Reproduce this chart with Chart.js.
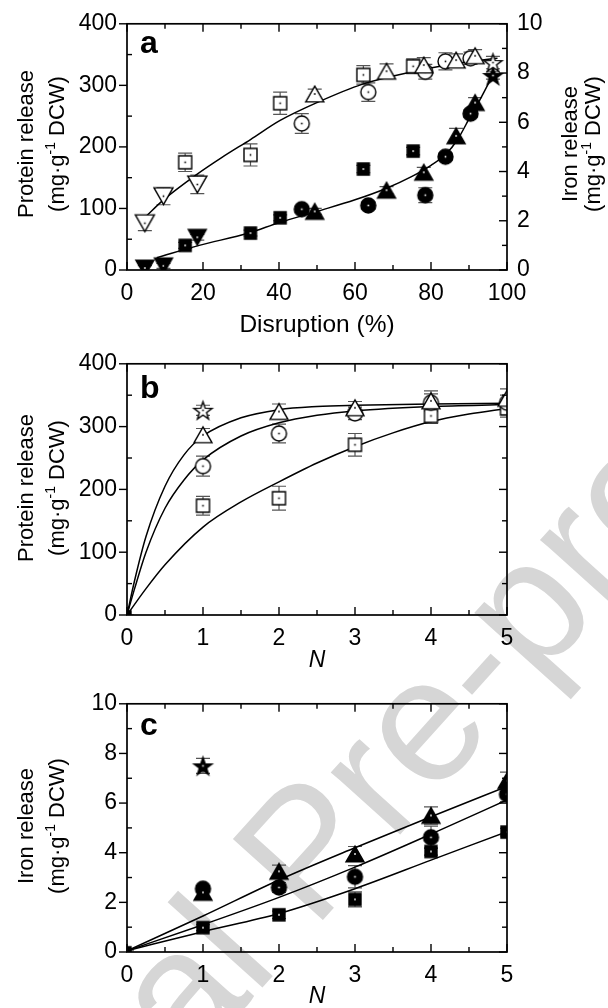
<!DOCTYPE html>
<html><head><meta charset="utf-8">
<script src="https://cdn.jsdelivr.net/npm/chart.js@4.4.0/dist/chart.umd.min.js"></script>
<style>
html,body{margin:0;padding:0;background:#fff;}
body{width:608px;height:1008px;position:relative;overflow:hidden;}
#wm{position:absolute;left:304px;top:850px;transform:translate(-50%,-50%) rotate(-48deg);font-size:176px;line-height:1;color:#d6d6d6;white-space:nowrap;font-family:'Liberation Sans',Arial,sans-serif;z-index:0;}
.pane{position:absolute;left:0;width:608px;z-index:1;}
</style></head>
<body>
<div id="wm">Journal Pre-proof</div>
<div class="pane" style="top:0;height:340px"><canvas id="ca"></canvas></div>
<div class="pane" style="top:340px;height:340px"><canvas id="cb"></canvas></div>
<div class="pane" style="top:680px;height:328px"><canvas id="cc"></canvas></div>
<script>
// ---------------- DATA ----------------
// Panel a: protein (left axis) and iron (right axis) vs disruption (%)
const aXTicks = [0, 20, 40, 60, 80, 100];
const aYTicks = [0, 100, 200, 300, 400];
const aY2Ticks = [0, 2, 4, 6, 8, 10];

const aInvX = [4.7, 9.6, 18.5];
const aInvProt = [76, 120, 139];
const aInvProtErr = [12, 14, 15];
const aInvFe = [0.08, 0.17, 1.33];
const aInvFeErr = [0.1, 0.1, 0.12];

const aSqX = [15.3, 32.5, 40.3, 62.2, 75.3];
const aSqProt = [175, 187, 271, 317, 331];
const aSqProtErr = [15, 18, 18, 15, 12];
const aSqFe = [1.0, 1.5, 2.12, 4.1, 4.83];
const aSqFeErr = [0.12, 0.12, 0.12, 0.15, 0.15];

const aCiX = [46.0, 63.5, 78.5, 83.8, 90.4];
const aCiProt = [238, 289, 322, 339, 344];
const aCiProtErr = [16, 15, 12, 14, 10];
const aCiFe = [2.47, 2.62, 3.04, 4.6, 6.35];
const aCiFeErr = [0.12, 0.15, 0.3, 0.15, 0.15];

const aTrX = [49.4, 68.3, 78.1, 86.6, 91.6];
const aTrProt = [286, 323, 333, 341, 348];
const aTrProtErr = [8, 12, 12, 10, 10];
const aTrFe = [2.38, 3.24, 3.97, 5.45, 6.8];
const aTrFeErr = [0.12, 0.15, 0.2, 0.3, 0.2];

const aStX = [96.3];
const aStProt = [337];
const aStProtErr = [10];
const aStFe = [7.9];
const aStFeErr = [0.15];

const aFitProtX = [4.8, 9.6, 18.3, 25, 32.5, 40.3, 50, 62, 75, 85, 92, 97.5];
const aFitProtY = [86, 114, 155, 183, 212, 243, 272, 302, 322, 334, 340, 344];
const aFitFeX = [7.8, 19, 32, 40, 50, 60, 68, 75, 80, 84, 87, 90.4, 93, 96.2];
const aFitFeY = [0.5, 1.0, 1.5, 1.92, 2.38, 2.85, 3.3, 3.8, 4.25, 4.72, 5.3, 6.25, 6.95, 7.9];

// Panel b: protein release vs N
const bXTicks = [0, 1, 2, 3, 4, 5];
const bYTicks = [0, 100, 200, 300, 400];
const bN = [1, 2, 3, 4, 5];
const bSq = [174, 186, 271, 317, 329];
const bSqErr = [15, 19, 18, 12, 14];
const bCi = [237, 289, 321, 338, 338];
const bCiErr = [16, 15, 10, 14, 12];
const bTr = [287, 324, 330, 341, 345];
const bTrErr = [10, 12, 10, 16, 15];
const bStN = [1];
const bSt = [326];
const bStErr = [8];
const bOrigN = [0];
const bOrig = [0];
const bFitTrN = [0, 0.1, 0.25, 0.5, 0.75, 1, 1.5, 2, 2.5, 3, 4, 5];
const bFitTr = [0, 55, 125, 205, 255, 285, 314, 327, 332, 334, 336, 337];
const bFitCiN = [0, 0.1, 0.25, 0.5, 0.75, 1, 1.5, 2, 2.5, 3, 4, 5];
const bFitCi = [0, 42, 100, 170, 215, 247, 285, 306, 318, 325, 332, 335];
const bFitSqN = [0, 0.25, 0.5, 1, 1.5, 2, 2.5, 3, 3.5, 4, 4.5, 5];
const bFitSq = [0, 42, 80, 140, 180, 212, 242, 268, 290, 308, 320, 329];

// Panel c: iron release vs N
const cXTicks = [0, 1, 2, 3, 4, 5];
const cYTicks = [0, 2, 4, 6, 8, 10];
const cN = [1, 2, 3, 4, 5];
const cSq = [0.98, 1.5, 2.12, 4.05, 4.83];
const cSqErr = [0.12, 0.15, 0.3, 0.15, 0.15];
const cCi = [2.55, 2.6, 3.03, 4.62, 6.36];
const cCiErr = [0.12, 0.2, 0.45, 0.45, 0.3];
const cTr = [2.4, 3.25, 3.95, 5.5, 6.9];
const cTrErr = [0.2, 0.25, 0.3, 0.35, 0.35];
const cStN = [1];
const cSt = [7.5];
const cStErr = [0.3];
const cOrigN = [0];
const cOrig = [0.05];
const cFitN = [0, 1, 2, 3, 4, 5];
const cFitTr = [0.05, 1.45, 2.9, 4.2, 5.45, 6.67];
const cFitCi = [0.05, 1.1, 2.2, 3.42, 4.75, 6.13];
const cFitSq = [0.05, 0.82, 1.55, 2.55, 3.7, 4.85];

// ---------------- STYLE / HELPERS ----------------
const FAM = "'Liberation Sans', Arial, Helvetica, sans-serif";
Chart.defaults.font.family = FAM;
Chart.defaults.font.size = 23;
Chart.defaults.color = '#000';
Chart.defaults.animation = false;

function marker(shape, filled, s) {
  const W = Math.ceil(s) + 6;
  const c = document.createElement('canvas');
  c.width = W; c.height = W;
  const g = c.getContext('2d');
  const m = W / 2;
  g.lineWidth = 1.4; g.strokeStyle = '#000'; g.fillStyle = filled ? '#000' : '#fff';
  g.lineJoin = 'miter';
  g.beginPath();
  if (shape === 'sq') g.rect(m - s / 2, m - s / 2, s, s);
  else if (shape === 'ci') g.arc(m, m, s / 2, 0, Math.PI * 2);
  else if (shape === 'tr' || shape === 'inv') {
    const h = s * 0.88, d = shape === 'tr' ? 1 : -1;
    g.moveTo(m, m - d * h / 2); g.lineTo(m + s / 2, m + d * h / 2); g.lineTo(m - s / 2, m + d * h / 2); g.closePath();
  } else if (shape === 'st') {
    for (let i = 0; i < 10; i++) {
      const r = i % 2 ? s * 0.2 : s / 2, an = -Math.PI / 2 + i * Math.PI / 5;
      const px = m + r * Math.cos(an), py = m + 1 + r * Math.sin(an);
      i ? g.lineTo(px, py) : g.moveTo(px, py);
    }
    g.closePath();
  }
  g.fill(); g.stroke();
  g.fillStyle = filled ? '#fff' : '#000';
  g.fillRect(m - 0.8, m - 0.8, 1.6, 1.6);
  return c;
}
const M = {
  sqO: marker('sq', false, 13), sqF: marker('sq', true, 12),
  ciO: marker('ci', false, 15), ciF: marker('ci', true, 15),
  trO: marker('tr', false, 18), trF: marker('tr', true, 18),
  invO: marker('inv', false, 19), invF: marker('inv', true, 18),
  stO: marker('st', false, 19), stF: marker('st', true, 19),
  orig: marker('sq', true, 8)
};

function pts(X, Y, E, img, yAxis) {
  return { data: X.map((x, i) => ({ x: x, y: Y[i] })), errs: E, pointStyle: img, pointRadius: 8, pointHoverRadius: 8,
    showLine: false, yAxisID: yAxis || 'y', clip: 0 };
}
function fit(X, Y, yAxis) {
  return { data: X.map((x, i) => ({ x: x, y: Y[i] })), showLine: true, pointRadius: 0, borderColor: '#000', borderWidth: 1.5,
    cubicInterpolationMode: 'monotone', fill: false, yAxisID: yAxis || 'y', clip: 0 };
}
function axis(pos, ticks, size, pad) {
  const o = { type: 'linear', position: pos, min: ticks[0], max: ticks[ticks.length - 1],
    grid: { display: false, drawTicks: false }, border: { display: false },
    ticks: { padding: pad, color: '#000', font: { size: 23 }, autoSkip: false, maxRotation: 0 },
    afterBuildTicks: s => { s.ticks = ticks.map(v => ({ value: v })); } };
  if (pos === 'bottom') o.afterFit = s => { s.height = size; };
  else o.afterFit = s => { s.width = size; };
  return o;
}

const errPlugin = {
  id: 'errs',
  beforeDatasetsDraw(chart) {
    const ctx = chart.ctx, a = chart.chartArea;
    ctx.save();
    ctx.beginPath(); ctx.rect(a.left, a.top, a.right - a.left, a.bottom - a.top); ctx.clip();
    ctx.strokeStyle = '#555'; ctx.lineWidth = 1.2;
    chart.data.datasets.forEach(ds => {
      if (!ds.errs) return;
      const xs = chart.scales.x, ys = chart.scales[ds.yAxisID || 'y'];
      ds.data.forEach((p, j) => {
        const e = ds.errs[j];
        const x = xs.getPixelForValue(p.x);
        const y1 = ys.getPixelForValue(p.y - e), y2 = ys.getPixelForValue(p.y + e);
        ctx.beginPath();
        ctx.moveTo(x, y1); ctx.lineTo(x, y2);
        ctx.moveTo(x - 7, y1); ctx.lineTo(x + 7, y1);
        ctx.moveTo(x - 7, y2); ctx.lineTo(x + 7, y2);
        ctx.stroke();
      });
    });
    ctx.restore();
  }
};

const framePlugin = {
  id: 'frame',
  afterDatasetsDraw(chart) {
    const ctx = chart.ctx, a = chart.chartArea;
    const X = chart.scales.x, Y = chart.scales.y, Y2 = chart.scales.y1;
    ctx.save();
    ctx.strokeStyle = '#000'; ctx.lineWidth = 1.7;
    ctx.strokeRect(a.left, a.top, a.right - a.left, a.bottom - a.top);
    ctx.lineWidth = 1.4;
    const line = (x1, y1, x2, y2) => { ctx.beginPath(); ctx.moveTo(x1, y1); ctx.lineTo(x2, y2); ctx.stroke(); };
    const vals = sc => { const t = sc.ticks.map(k => k.value), mi = []; for (let i = 0; i < t.length - 1; i++) mi.push((t[i] + t[i + 1]) / 2); return { t, mi }; };
    let v = vals(X);
    v.t.forEach(t => { const p = X.getPixelForValue(t); line(p, a.bottom, p, a.bottom - 8); line(p, a.top, p, a.top + 8); });
    v.mi.forEach(t => { const p = X.getPixelForValue(t); line(p, a.bottom, p, a.bottom - 5); line(p, a.top, p, a.top + 5); });
    v = vals(Y);
    v.t.forEach(t => { const p = Y.getPixelForValue(t); line(a.left - 8, p, a.left, p); if (!Y2) line(a.right, p, a.right - 8, p); });
    v.mi.forEach(t => { const p = Y.getPixelForValue(t); line(a.left, p, a.left + 5, p); if (!Y2) line(a.right, p, a.right - 5, p); });
    if (Y2) {
      v = vals(Y2);
      v.t.forEach(t => { const p = Y2.getPixelForValue(t); line(a.right, p, a.right - 8, p); });
      v.mi.forEach(t => { const p = Y2.getPixelForValue(t); line(a.right, p, a.right - 5, p); });
    }
    ctx.restore();
  }
};

function drawRich(ctx, segs, x, y, rot, size, align) {
  ctx.save(); ctx.translate(x, y); ctx.rotate(rot);
  ctx.textBaseline = 'alphabetic'; ctx.textAlign = 'left'; ctx.fillStyle = '#000';
  const fnt = s => (s.style ? s.style + ' ' : '') + (s.sup ? Math.round(size * 0.62) : size) + 'px ' + FAM;
  let w = 0;
  segs.forEach(s => { ctx.font = fnt(s); s.w = ctx.measureText(s.t).width; w += s.w; });
  let cx = align === 'center' ? -w / 2 : 0;
  segs.forEach(s => { ctx.font = fnt(s); ctx.fillText(s.t, cx, s.sup ? -size * 0.4 : 0); cx += s.w; });
  ctx.restore();
}
function textPlugin(items) {
  return { id: 'texts', afterDraw(chart) { items.forEach(it => drawRich(chart.ctx, it.segs, it.x, it.y, it.rot || 0, it.size, it.align)); } };
}
const unitSegs = [{ t: '(mg·g' }, { t: '-1', sup: true }, { t: ' DCW)' }];
const R = -Math.PI / 2;

// ---------------- PANEL A ----------------
new Chart(document.getElementById('ca'), {
  type: 'scatter',
  data: { datasets: [
    pts(aStX, aStProt, aStProtErr, M.stO),
    pts(aTrX, aTrProt, aTrProtErr, M.trO),
    pts(aCiX, aCiProt, aCiProtErr, M.ciO),
    pts(aSqX, aSqProt, aSqProtErr, M.sqO),
    pts(aInvX, aInvProt, aInvProtErr, M.invO),
    pts(aStX, aStFe, aStFeErr, M.stF, 'y1'),
    pts(aTrX, aTrFe, aTrFeErr, M.trF, 'y1'),
    pts(aCiX, aCiFe, aCiFeErr, M.ciF, 'y1'),
    pts(aSqX, aSqFe, aSqFeErr, M.sqF, 'y1'),
    pts(aInvX, aInvFe, aInvFeErr, M.invF, 'y1'),
    fit(aFitProtX, aFitProtY),
    fit(aFitFeX, aFitFeY, 'y1')
  ] },
  options: {
    responsive: true, maintainAspectRatio: false, events: [],
    layout: { padding: { top: 18, left: 0, right: 0, bottom: 0 } },
    plugins: { legend: { display: false }, tooltip: { enabled: false } },
    scales: { x: axis('bottom', aXTicks, 70, 10), y: axis('left', aYTicks, 127, 10), y1: axis('right', aY2Ticks, 101, 10) }
  },
  plugins: [errPlugin, framePlugin, textPlugin([
    { segs: [{ t: 'a', style: 'bold' }], x: 140, y: 53, size: 32 },
    { segs: [{ t: 'Disruption (%)' }], x: 317, y: 332, size: 24.5, align: 'center' },
    { segs: [{ t: 'Protein release' }], x: 33, y: 144, rot: R, size: 22, align: 'center' },
    { segs: unitSegs, x: 64, y: 144, rot: R, size: 22, align: 'center' },
    { segs: [{ t: 'Iron release' }], x: 577, y: 144, rot: R, size: 22, align: 'center' },
    { segs: unitSegs, x: 600, y: 144, rot: R, size: 22, align: 'center' }
  ])]
});

// ---------------- PANEL B ----------------
new Chart(document.getElementById('cb'), {
  type: 'scatter',
  data: { datasets: [
    pts(bStN, bSt, bStErr, M.stO),
    pts(bN, bTr, bTrErr, M.trO),
    pts(bN, bCi, bCiErr, M.ciO),
    pts(bN, bSq, bSqErr, M.sqO),
    pts(bOrigN, bOrig, [0], M.orig),
    fit(bFitTrN, bFitTr),
    fit(bFitCiN, bFitCi),
    fit(bFitSqN, bFitSq)
  ] },
  options: {
    responsive: true, maintainAspectRatio: false, events: [],
    layout: { padding: { top: 22, left: 0, right: 101, bottom: 0 } },
    plugins: { legend: { display: false }, tooltip: { enabled: false } },
    scales: { x: axis('bottom', bXTicks, 65, 10), y: axis('left', bYTicks, 127, 10) }
  },
  plugins: [errPlugin, framePlugin, textPlugin([
    { segs: [{ t: 'b', style: 'bold' }], x: 140, y: 58, size: 32 },
    { segs: [{ t: 'N', style: 'italic' }], x: 317, y: 327, size: 23, align: 'center' },
    { segs: [{ t: 'Protein release' }], x: 33, y: 148, rot: R, size: 22, align: 'center' },
    { segs: unitSegs, x: 64, y: 148, rot: R, size: 22, align: 'center' }
  ])]
});

// ---------------- PANEL C ----------------
new Chart(document.getElementById('cc'), {
  type: 'scatter',
  data: { datasets: [
    pts(cStN, cSt, cStErr, M.stF),
    pts(cN, cTr, cTrErr, M.trF),
    pts(cN, cCi, cCiErr, M.ciF),
    pts(cN, cSq, cSqErr, M.sqF),
    pts(cOrigN, cOrig, [0], M.orig),
    fit(cFitN, cFitTr),
    fit(cFitN, cFitCi),
    fit(cFitN, cFitSq)
  ] },
  options: {
    responsive: true, maintainAspectRatio: false, events: [],
    layout: { padding: { top: 20, left: 0, right: 101, bottom: 0 } },
    plugins: { legend: { display: false }, tooltip: { enabled: false } },
    scales: { x: axis('bottom', cXTicks, 56, 10), y: axis('left', cYTicks, 127, 10) }
  },
  plugins: [errPlugin, framePlugin, textPlugin([
    { segs: [{ t: 'c', style: 'bold' }], x: 140, y: 55, size: 32 },
    { segs: [{ t: 'N', style: 'italic' }], x: 317, y: 323, size: 23, align: 'center' },
    { segs: [{ t: 'Iron release' }], x: 33, y: 146, rot: R, size: 22, align: 'center' },
    { segs: unitSegs, x: 64, y: 146, rot: R, size: 22, align: 'center' }
  ])]
});
</script>
</body></html>
